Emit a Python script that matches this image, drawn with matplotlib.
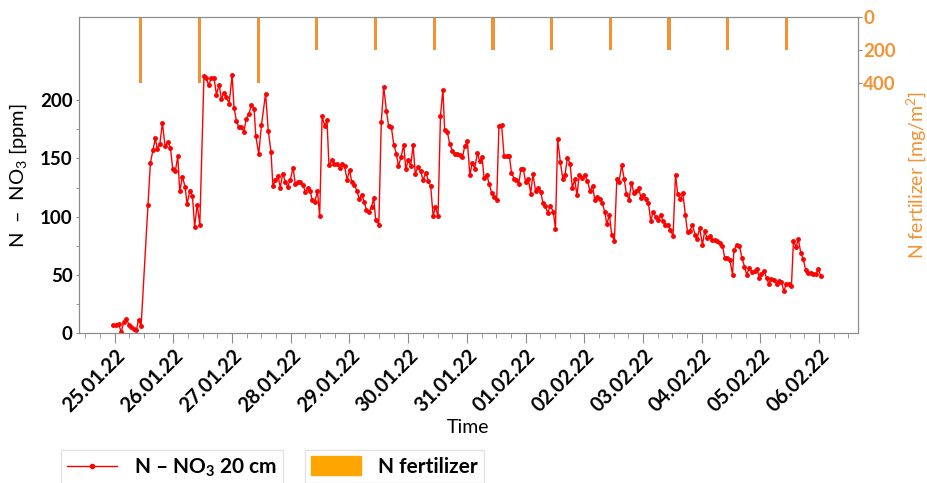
import matplotlib
matplotlib.use('Agg')
import matplotlib.pyplot as plt
import matplotlib.dates as mdates
from matplotlib.lines import Line2D
from matplotlib.patches import Patch
from datetime import datetime, timedelta

plt.rcParams['font.family'] = 'Lato'
plt.rcParams['mathtext.fontset'] = 'custom'
plt.rcParams['mathtext.rm'] = 'Lato'
plt.rcParams['mathtext.bf'] = 'Lato:bold'
plt.rcParams['mathtext.it'] = 'Lato:italic'

# measurement start, hours after start, N-NO3 at 20 cm [ppm]
start = datetime(2022, 1, 25)
hours = [-0.7, 0.4, 1.6, 2.7, 3.7, 4.8, 5.9, 6.8, 7.8, 8.9, 9.8, 10.8,
         13.6, 14.6, 15.7, 16.6, 17.4, 18.5, 19.5, 20.6, 21.7, 22.8, 23.7, 24.8,
         25.8, 26.6, 27.7, 28.8, 29.6, 30.7, 31.8, 32.7, 33.7, 34.8,
         36.5, 37.5, 38.4, 39.5, 40.6, 41.6, 42.7, 43.6, 44.7, 45.7, 46.8, 48.0,
         48.8, 49.8, 50.7, 51.8, 52.8, 53.8, 54.8, 55.9, 57.0, 57.7, 58.9, 60.0,
         61.7, 62.8, 63.9, 64.7, 65.7, 66.8, 67.7, 68.7, 69.8, 70.7, 71.8, 72.9,
         73.9, 75.0,
         75.9, 77.0, 78.0, 79.0, 80.0, 80.7, 81.8, 82.9, 83.8, 84.8, 85.9, 86.8,
         87.6, 88.9, 89.8, 90.9, 92.0, 92.9, 94.0, 95.0, 96.1, 96.9, 98.0, 99.1,
         99.9, 101.0, 102.1, 102.9, 104.0, 105.0, 105.9, 106.7, 108.0, 109.0, 110.0, 111.1,
         112.0, 113.1, 114.1, 115.2, 116.0, 117.1, 118.2, 119.0, 120.1, 121.0, 122.0, 122.9,
         124.0, 125.1, 126.1, 127.2, 128.3, 129.2, 130.2, 131.1, 132.2, 133.2, 134.2, 134.9,
         136.0, 137.0, 138.1, 139.2, 140.1, 141.1, 142.2, 143.1, 144.2, 145.2, 146.2, 147.2,
         148.3, 149.2,
         150.2, 151.0, 152.1, 153.1, 154.1, 155.1, 156.2, 157.1, 158.2, 159.2, 160.3, 161.4,
         162.2, 163.3, 164.2, 165.2, 166.1, 167.1, 168.0, 169.1, 170.1, 171.0, 172.1, 173.2,
         174.2, 175.1, 176.1, 177.0, 178.1, 179.4, 180.2, 181.1, 182.2, 183.2, 184.1, 185.1,
         186.2, 187.1, 188.1, 189.0, 190.0, 191.1, 192.2, 193.3, 194.4, 195.4, 196.3, 197.4,
         198.3, 199.3, 200.4, 201.2, 202.3, 203.2, 204.3, 205.3, 206.2, 207.3, 208.3, 209.2,
         210.3, 211.3, 212.2, 213.2, 214.2, 215.2, 216.2, 217.3, 218.2, 219.2, 220.1, 221.2,
         222.2,
         223.3, 224.2, 225.2, 226.3, 227.2, 228.3, 229.3, 230.2, 231.3, 232.3, 233.3, 234.2,
         235.1, 236.2, 237.3, 238.1, 239.2, 240.3, 241.2, 242.2, 243.3, 244.2, 245.3, 246.4,
         247.4, 248.5, 249.4, 250.4, 251.5, 252.6, 253.2, 254.3, 255.4, 256.5, 257.5, 258.4,
         259.5, 260.5, 261.6, 262.5, 263.6, 264.4, 265.5, 266.5, 267.4, 268.5, 269.5, 270.6,
         271.5, 272.6, 273.6, 274.6, 275.6, 276.7, 277.5, 278.6, 279.5, 280.5, 281.5, 282.5,
         283.5, 284.5, 285.5, 286.6, 287.7, 288.7]
no3 = [6.9, 6.9, 7.7, 1.1, 9.7, 12.6, 6.9, 5.4, 4.0, 3.1, 11.7, 6.3,
       110.4, 146.2, 157.6, 167.1, 158.5, 162.8, 180.5, 160.5, 164.2, 159.1, 141.3, 139.0,
       151.9, 121.9, 134.2, 125.6, 110.7, 122.1, 117.9, 91.2, 110.4, 93.3,
       220.6, 218.6, 212.8, 219.1, 219.1, 204.8, 213.4, 201.4, 206.3, 202.3, 197.1, 221.4,
       193.4, 182.0, 177.1, 177.1, 172.8, 184.2, 187.7, 195.7, 192.2, 169.4, 153.6, 178.5,
       205.7, 173.6, 155.6, 126.2, 131.3, 134.7, 125.0, 137.0, 129.9, 125.6, 131.3, 142.2,
       127.9, 129.6,
       129.9, 127.0, 121.3, 125.0, 122.2, 114.1, 112.7, 121.9, 100.4, 186.2, 177.7, 182.8,
       144.2, 148.5, 145.0, 145.0, 142.2, 145.6, 143.3, 131.9, 139.9, 129.9, 127.0, 121.9,
       115.6, 118.4, 112.7, 105.6, 104.1, 108.4, 116.1, 97.5, 93.2, 181.4, 211.4, 190.8,
       177.7, 177.1, 161.9, 153.6, 143.3, 151.3, 161.9, 141.0, 149.0, 143.3, 161.3, 137.0,
       142.7, 139.0, 131.3, 137.9, 130.4, 126.2, 100.4, 108.4, 100.4, 186.5, 209.1, 174.2,
       172.8, 162.2, 156.5, 154.2, 153.6, 152.8, 150.8, 160.5, 165.1, 135.6, 146.2, 141.3,
       154.8, 147.6,
       151.3, 133.3, 136.2, 128.4, 120.4, 117.0, 114.7, 177.7, 178.5, 152.2, 151.9, 151.9,
       137.9, 132.7, 131.3, 127.9, 141.3, 140.7, 129.9, 132.7, 119.9, 136.5, 121.9, 125.0,
       121.3, 111.8, 109.3, 103.3, 109.3, 104.1, 89.3, 166.5, 147.0, 132.7, 135.6, 150.5,
       145.6, 124.7, 132.2, 118.4, 136.2, 133.6, 136.2, 130.4, 121.9, 126.4, 114.1, 117.0,
       115.6, 112.1, 104.1, 93.5, 101.8, 84.7, 79.2, 132.2, 129.9, 144.2, 132.7, 119.9,
       114.7, 129.3, 120.7, 121.9, 124.7, 116.1, 118.4, 115.6, 112.1, 96.1, 104.1, 99.8,
       97.5,
       101.3, 96.1, 93.3, 93.3, 88.4, 83.5, 136.2, 119.3, 115.0, 120.7, 101.8, 87.0,
       87.8, 92.7, 84.7, 80.7, 90.4, 75.5, 87.5, 82.1, 83.2, 79.8, 79.8, 79.0,
       77.8, 75.0, 64.9, 64.9, 63.2, 50.3, 71.8, 75.5, 75.0, 64.6, 56.9, 50.3,
       56.3, 52.6, 53.5, 55.5, 47.8, 51.2, 53.5, 47.8, 42.6, 46.9, 45.5, 42.6,
       44.9, 44.0, 36.0, 42.6, 42.6, 40.6, 79.0, 74.1, 80.7, 69.2, 63.5, 54.6,
       52.1, 52.1, 51.2, 51.2, 54.9, 49.2]

# fertilizer applications [mg/m2]
fert_dates = ['25.01.22 10:40', '26.01.22 10:40', '27.01.22 10:40', '28.01.22 10:40',
              '29.01.22 10:40', '30.01.22 10:40', '31.01.22 10:40', '01.02.22 10:40',
              '02.02.22 10:40', '03.02.22 10:40', '04.02.22 10:40', '05.02.22 10:40']
fert_amount = [400, 400, 400, 200, 200, 200, 200, 200, 200, 200, 200, 200]

day_labels = ['25.01.22', '26.01.22', '27.01.22', '28.01.22', '29.01.22', '30.01.22',
              '31.01.22', '01.02.22', '02.02.22', '03.02.22', '04.02.22', '05.02.22', '06.02.22']

t = [start + timedelta(hours=h) for h in hours]
tf = [datetime.strptime(s, '%d.%m.%y %H:%M') for s in fert_dates]
days = [datetime.strptime(s, '%d.%m.%y') for s in day_labels]

red = '#ff0000'
orange = '#f39233'
gray = '#8c8c8c'

fig = plt.figure(figsize=(9.27, 4.83), dpi=100)
ax = fig.add_axes([0.0849, 0.31, 0.8403, 0.654])

ax.plot(t, no3, color=red, lw=1, marker='o', markersize=2.5)

ax.set_ylim(0, 271)
ax.set_yticks([0, 50, 100, 150, 200])
ax.set_yticks([25, 75, 125, 175], minor=True)
ax.set_xlim(start - timedelta(days=0.613), start + timedelta(days=12.657))
ax.set_xticks(days)
ax.xaxis.set_major_formatter(mdates.DateFormatter('%d.%m.%y'))
ax.xaxis.set_minor_locator(mdates.HourLocator(byhour=[0, 6, 12, 18]))

for s in ax.spines.values():
    s.set_color(gray)
ax.tick_params(which='both', color=gray)
ax.tick_params(axis='x', which='major', length=7, labelsize=14.5, pad=2)
ax.tick_params(axis='x', which='minor', length=3.5)
ax.tick_params(axis='y', which='both', length=2.5, labelsize=13.5, pad=2)
for lab in ax.get_yticklabels():
    lab.set_fontweight('bold')
plt.setp(ax.get_xticklabels(), rotation=45, ha='right', va='top',
         rotation_mode='anchor', fontweight='bold')

ax.set_ylabel('N  –  NO$_3$ [ppm]', fontsize=14.5, labelpad=8)
ax.set_xlabel('Time', fontsize=14, labelpad=2)

ax2 = ax.twinx()
ax2.bar(tf, fert_amount, width=0.055, color=orange)
ax2.set_ylim(1930, 0)
ax2.set_yticks([0, 200, 400])
ax2.tick_params(axis='y', length=3, pad=1, color=gray, labelcolor=orange, labelsize=13.5)
for lab in ax2.get_yticklabels():
    lab.set_fontweight('bold')
for s in ax2.spines.values():
    s.set_color(gray)
ax2.set_ylabel('N fertilizer [mg/m$^2$]', color=orange, fontsize=14, labelpad=6)

leg1 = fig.legend(handles=[Line2D([], [], color=red, lw=1, marker='o', markersize=3)],
                  labels=['N – NO$_\\mathbf{3}$ 20 cm'], loc='upper left',
                  bbox_to_anchor=(61 / 927, 1 - 450 / 483), prop={'weight': 'bold', 'size': 15},
                  frameon=True, fancybox=False, edgecolor='#dddddd', handlelength=2.4,
                  borderaxespad=0, borderpad=0.3)
leg2 = fig.legend(handles=[Patch(color='orange')], labels=['N fertilizer'], loc='upper left',
                  bbox_to_anchor=(305 / 927, 1 - 450 / 483), prop={'weight': 'bold', 'size': 15},
                  frameon=True, fancybox=False, edgecolor='#dddddd', handlelength=2.4,
                  handleheight=1.0, borderaxespad=0, borderpad=0.3)

fig.savefig('out.png', dpi=100)
